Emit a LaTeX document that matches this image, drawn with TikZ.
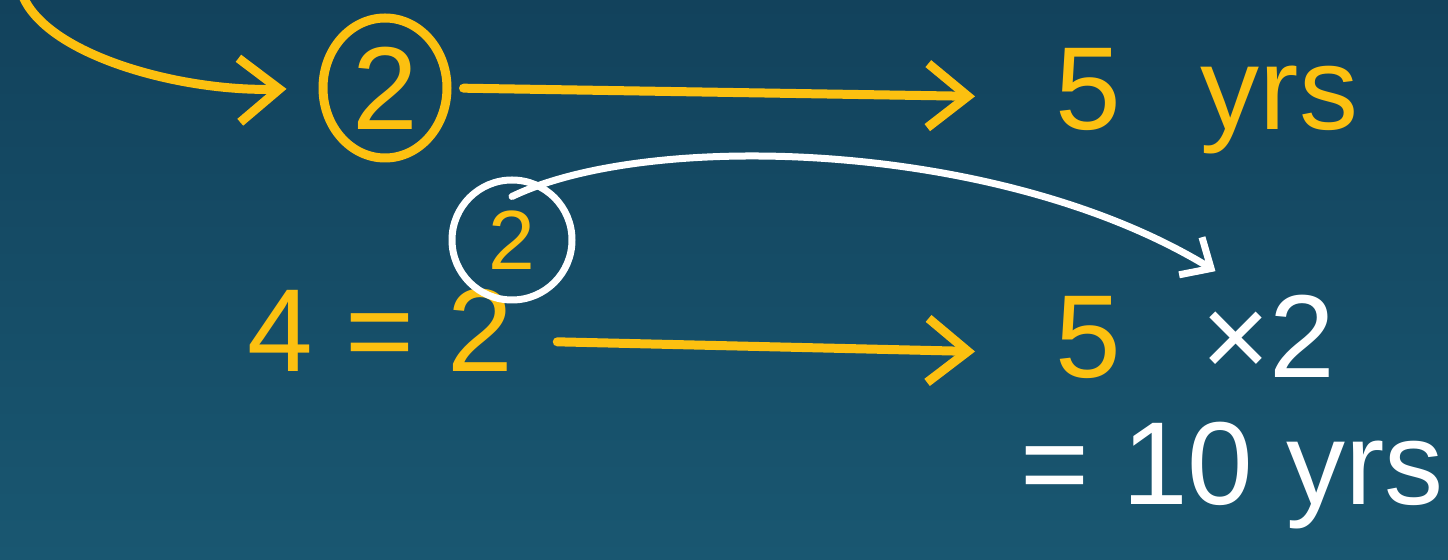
\documentclass[tikz,border=0pt]{standalone}
\usepackage{fontspec}
\setmainfont{Liberation Sans}
\usetikzlibrary{arrows.meta,shapes.geometric}
\definecolor{board}{HTML}{12425C}
\definecolor{boardlow}{HTML}{195771}
\definecolor{chalk}{HTML}{FCC010}
\tikzset{
  pen/.style={line width=4.5pt, line cap=round, line join=round},
  ink/.style={inner sep=0pt, font=\fontsize{59}{62}\selectfont},
  barb/.style={-{Straight Barb[length=20pt,width=32pt]}},
  smallbarb/.style={-{Straight Barb[length=12pt,width=22pt]}}
}
\begin{document}
\begin{tikzpicture}[x=0.5pt,y=-0.5pt]
    % Tableau
    \shade[top color=board, bottom color=boardlow] (0,0) rectangle (1448,560);
    \useasboundingbox (0,0) rectangle (1448,560);

    % Ligne du haut
    \coordinate (start) at (22,-6);
    \node[ellipse, draw=chalk, pen, text=chalk, ink, minimum width=62pt, minimum height=70pt] (top) at (385,88) {2};
    \node[ink, text=chalk, anchor=base west] (fiveyrs) at (1055,130) {5\hspace{40pt}yrs};
    \draw[pen, chalk, barb, shorten >=16pt] (start) .. controls (45,55) and (180,92) .. (top.west);
    \draw[pen, chalk, barb, shorten <=6pt, shorten >=40pt] (top.east) -- ([yshift=2pt]fiveyrs.west);

    % Ligne du bas
    \node[ink, text=chalk, anchor=base] (lhs) at (380,372) {4 = 2};
    \node[circle, draw=white, line width=3.5pt, inner sep=0pt, minimum width=60pt,
          text=chalk, font=\fontsize{42}{44}\selectfont] (small) at (512,240) {2};
    \node[ink, text=white, anchor=base west] (prod) at (1055,378) {\textcolor{chalk}{5}\hspace{40pt}×2};
    \draw[pen, chalk, barb, shorten <=22pt, shorten >=40pt] ([yshift=-5pt]lhs.east) -- ([yshift=-8pt]prod.west);

    % Report du 2
    \draw[line width=3.5pt, line cap=round, white, smallbarb] ([yshift=-10pt]small.north)
        .. controls (650,130) and (1000,140) .. ([xshift=10pt,yshift=12pt]prod.north);

    % Résultat
    \node[ink, text=white, anchor=base west] (result) at (1020,505) {= 10 yrs};
\end{tikzpicture}
\end{document}
